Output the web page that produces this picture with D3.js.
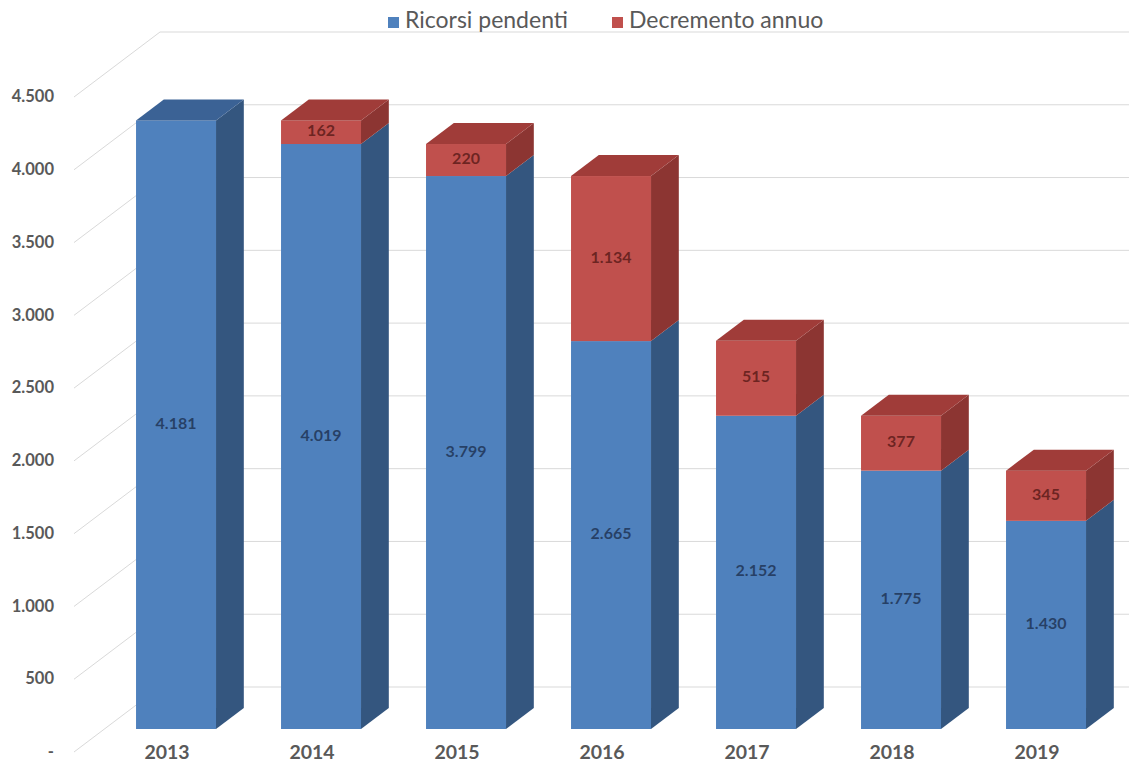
<!DOCTYPE html>
<html>
<head>
<meta charset="utf-8">
<script src="https://cdn.jsdelivr.net/npm/d3@7"></script>
<style>
  body { margin: 0; background: #fff; }
  svg { display: block; font-family: Lato, "Open Sans", sans-serif; }
</style>
</head>
<body>
<script>
// data
var years = ["2013", "2014", "2015", "2016", "2017", "2018", "2019"];
var pendenti = [4181, 4019, 3799, 2665, 2152, 1775, 1430];
var decremento = [0, 162, 220, 1134, 515, 377, 345];
var yTicks = [0, 500, 1000, 1500, 2000, 2500, 3000, 3500, 4000, 4500];
var seriesNames = ["Ricorsi pendenti", "Decremento annuo"];

var W = 1129, H = 764;
var svg = d3.select("body").append("svg").attr("width", W).attr("height", H);

// fake 3d: z goes 0 (front of floor) -> 1 (back wall)
var DX = 86, DY = 65;
var zF = 23 / 65, zB = 44 / 65;

var y = d3.scaleLinear().domain([0, 4500]).range([752, 97]);
var x = d3.scaleBand().domain(years).range([40.6, 1120.6]).padding(0.4483);
var bw = x.bandwidth();

var it = d3.formatLocale({decimal: ",", thousands: ".", grouping: [3], currency: ["", "€"]});
var fmt = it.format(",");
function tickFmt(v) { return v === 0 ? "-" : fmt(v); }

var colors = {
  blue: {front: "#4f81bd", side: "#34567f", top: "#3b6295"},
  red: {front: "#c0504d", side: "#8c3532", top: "#a03c39"}
};

// grid: left wall diagonals + back wall lines
var grid = svg.append("g").attr("stroke", "#d9d9d9").attr("stroke-width", 1).attr("fill", "none");
var wallX = 74;
yTicks.forEach(function(v) {
  grid.append("line")
    .attr("x1", wallX).attr("y1", y(v))
    .attr("x2", wallX + DX).attr("y2", y(v) - DY);
  grid.append("line")
    .attr("x1", wallX + DX).attr("y1", y(v) - DY)
    .attr("x2", W).attr("y2", y(v) - DY);
});

// y tick labels
svg.append("g").selectAll("text")
  .data(yTicks).enter().append("text")
  .attr("x", 54).attr("y", function(d) { return y(d) + 1; })
  .attr("text-anchor", "end").attr("dominant-baseline", "middle")
  .attr("font-size", 16.5).attr("font-weight", "bold").attr("fill", "#595959")
  .text(tickFmt);

function pts(a) { return a.map(function(p) { return p.join(","); }).join(" "); }

var bars = svg.append("g");
years.forEach(function(yr, i) {
  var segs = [
    {v0: 0, v1: pendenti[i], c: colors.blue, val: pendenti[i], lab: "#1f3556"},
    {v0: pendenti[i], v1: pendenti[i] + decremento[i], c: colors.red, val: decremento[i], lab: "#5e1c1a"}
  ].filter(function(s) { return s.val > 0; });

  var xf = x(yr) + zF * DX;          // front face left
  var xr = xf + bw;                   // front face right
  var ddx = (zB - zF) * DX, ddy = (zB - zF) * DY;
  var g = bars.append("g");

  segs.forEach(function(s) {
    var yb = y(s.v0) - zF * DY, yt = y(s.v1) - zF * DY;
    g.append("polygon")
      .attr("points", pts([[xr, yb], [xr + ddx, yb - ddy], [xr + ddx, yt - ddy], [xr, yt]]))
      .attr("fill", s.c.side);
    g.append("rect")
      .attr("x", xf).attr("y", yt).attr("width", bw).attr("height", yb - yt)
      .attr("fill", s.c.front);
  });

  var topSeg = segs[segs.length - 1];
  var yt = y(topSeg.v1) - zF * DY;
  g.append("polygon")
    .attr("points", pts([[xf, yt], [xr, yt], [xr + ddx, yt - ddy], [xf + ddx, yt - ddy]]))
    .attr("fill", topSeg.c.top);

  segs.forEach(function(s) {
    var ym = (y(s.v0) + y(s.v1)) / 2 - zF * DY;
    g.append("text")
      .attr("x", xf + bw / 2).attr("y", ym)
      .attr("text-anchor", "middle").attr("dominant-baseline", "middle")
      .attr("font-size", 16).attr("font-weight", "bold")
      .attr("fill", s.lab).attr("fill-opacity", 0.85)
      .text(fmt(s.val));
  });

  // category label
  svg.append("text")
    .attr("x", xf + bw / 2 - 9).attr("y", 754)
    .attr("text-anchor", "middle").attr("dominant-baseline", "middle")
    .attr("font-size", 19.5).attr("font-weight", "bold").attr("fill", "#595959")
    .text(yr);
});

// legend
var leg = svg.append("g").attr("font-size", 23).attr("fill", "#595959");
var legX = [388, 612];
seriesNames.forEach(function(n, i) {
  leg.append("rect").attr("x", legX[i]).attr("y", 17).attr("width", 11).attr("height", 11)
    .attr("fill", i === 0 ? colors.blue.front : colors.red.front);
  leg.append("text").attr("x", legX[i] + 17).attr("y", 22)
    .attr("dominant-baseline", "middle").text(n);
});
</script>
</body>
</html>
